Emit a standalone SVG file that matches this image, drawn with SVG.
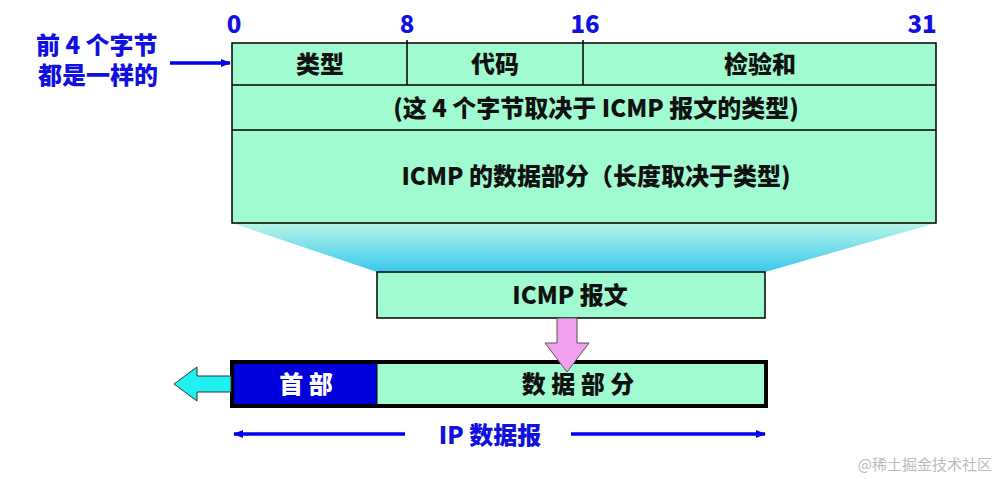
<svg xmlns="http://www.w3.org/2000/svg" width="1000" height="479" viewBox="0 0 1000 479">
<defs>
<linearGradient id="fan" x1="0" y1="0" x2="0" y2="1"><stop offset="0" stop-color="#b8f5e6"/><stop offset="1" stop-color="#3ac8ee"/></linearGradient>
<marker id="ab" markerWidth="10" markerHeight="8" refX="9" refY="4" orient="auto-start-reverse" markerUnits="userSpaceOnUse"><path d="M0,0 L10,4 L0,8 Z" fill="#0000ee"/></marker>
</defs>
<style>
.b{fill:#a0fcd0;stroke:#000;stroke-width:1.5}
.t{font-family:"Noto Sans CJK SC",sans-serif;font-weight:900;font-size:24px;fill:#111;text-anchor:middle}
.bl{font-family:"Noto Sans CJK SC",sans-serif;font-weight:900;font-size:24px;fill:#1010e0}
</style>
<rect width="1000" height="479" fill="#fff"/>
<polygon points="232,223 936,223 765,272 377,272" fill="url(#fan)"/>
<g id="bits">
<text class="bl" x="234" y="33" text-anchor="middle">0</text>
<text class="bl" x="407" y="33" text-anchor="middle">8</text>
<text class="bl" x="585" y="33" text-anchor="middle">16</text>
<text class="bl" x="922" y="33" text-anchor="middle">31</text>
</g>
<g id="icmp-header">
<rect class="b" x="232" y="43" width="704" height="180"/>
<line x1="232" y1="85" x2="936" y2="85" stroke="#000" stroke-width="1.5"/>
<line x1="232" y1="130" x2="936" y2="130" stroke="#000" stroke-width="1.5"/>
<line x1="407" y1="40" x2="407" y2="85" stroke="#000" stroke-width="1.5"/>
<line x1="583" y1="40" x2="583" y2="85" stroke="#000" stroke-width="1.5"/>
<text class="t" x="320" y="73">类型</text>
<text class="t" x="495" y="73">代码</text>
<text class="t" x="760" y="73">检验和</text>
<text class="t" x="596" y="117">(这 4 个字节取决于 ICMP 报文的类型)</text>
<text class="t" x="596" y="185">ICMP 的数据部分（长度取决于类型)</text>
</g>
<g id="note">
<text class="bl" x="36" y="54" font-size="23">前 4 个字节</text>
<text class="bl" x="38" y="84" font-size="23">都是一样的</text>
</g>
<g id="icmp-msg">
<rect class="b" x="377" y="272" width="388" height="46"/>
<text class="t" x="570" y="304">ICMP 报文</text>
</g>
<g id="ip">
<rect x="232" y="362" width="534" height="44" fill="#a0fcd0" stroke="#000" stroke-width="4"/>
<rect x="234" y="364" width="143" height="40" fill="#0000dd"/>
<line x1="377" y1="364" x2="377" y2="404" stroke="#000" stroke-width="1"/>
<text class="t" x="306" y="393" style="fill:#fff">首 部</text>
<text class="t" x="578" y="393">数 据 部 分</text>
</g>
<g id="connectors">
<line x1="170" y1="63" x2="230" y2="63" stroke="#0000ee" stroke-width="3.5" marker-end="url(#ab)"/>
<polygon points="557,318 577,318 577,343 589,343 567,372 545,343 557,343" fill="#f4a0f0" stroke="#555" stroke-width="1"/>
<polygon points="231,376 197,376 197,367 174,384 197,401 197,392 231,392" fill="#20f0f0" stroke="#333" stroke-width="1"/>
<line x1="234" y1="434" x2="405" y2="434" stroke="#0000ee" stroke-width="3.5" marker-start="url(#ab)"/>
<line x1="571" y1="434" x2="765" y2="434" stroke="#0000ee" stroke-width="3.5" marker-end="url(#ab)"/>
</g>
<text class="bl" x="490" y="444" text-anchor="middle">IP 数据报</text>
<text x="992" y="470" text-anchor="end" font-family="Noto Sans CJK SC,sans-serif" font-size="15" fill="#bbb">@稀土掘金技术社区</text>
</svg>
